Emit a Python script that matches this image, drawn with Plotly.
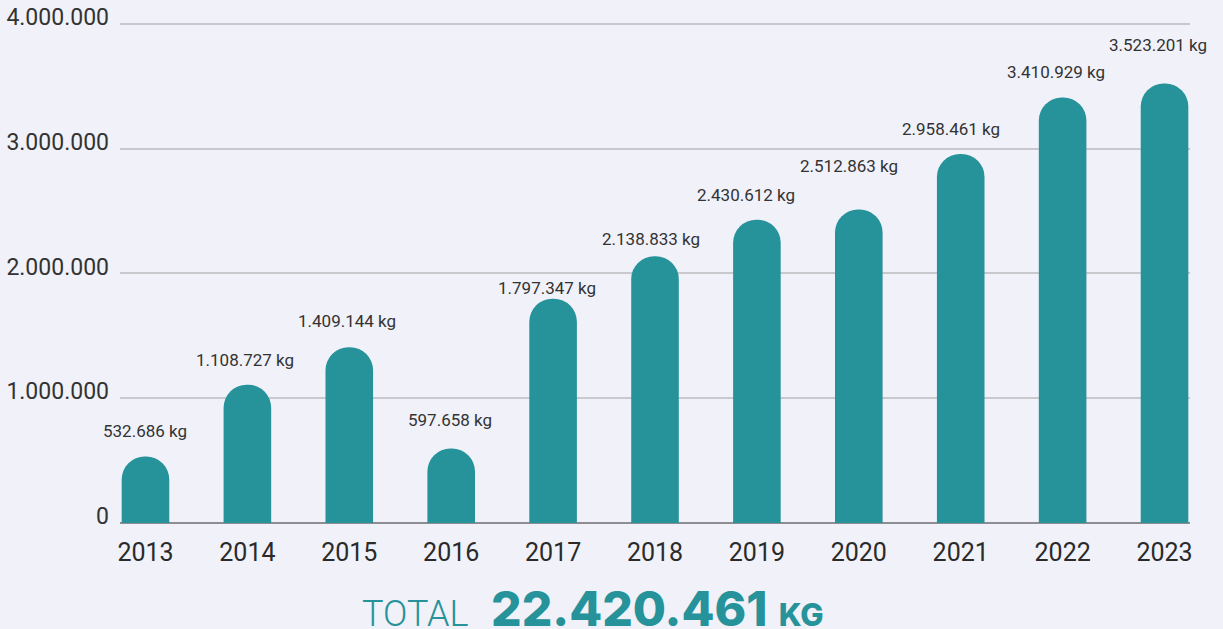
import plotly.graph_objects as go

years = ["2013", "2014", "2015", "2016", "2017", "2018", "2019", "2020", "2021", "2022", "2023"]
values_kg = [532686, 1108727, 1409144, 597658, 1797347, 2138833, 2430612, 2512863, 2958461, 3410929, 3523201]
y_ticks = [0, 1000000, 2000000, 3000000, 4000000]
# small label nudges (pixels) to mimic the original placement
label_dx = [-0.5, -2, -2, -1, -6.5, -4, -10.5, -10, -10, -7, -7]
label_dy = [25.5, 24.7, 26, 28, 11, 17, 25, 43.5, 25, 25.5, 38.5]

TEAL = "#26929A"
BG = "#F0F1F9"
FONT = "Roboto, Liberation Sans, Arial, sans-serif"

def fmt(v):
    return f"{v:,}".replace(",", ".")

fig = go.Figure()
fig.add_trace(go.Bar(
    x=years, y=values_kg,
    marker=dict(color=TEAL, line=dict(width=0), cornerradius="50%"),
    hoverinfo="skip",
))

for i, (v, dx, dy) in enumerate(zip(values_kg, label_dx, label_dy)):
    fig.add_annotation(
        x=i, y=v, xref="x", yref="y", text=f"{fmt(v)} kg", showarrow=False,
        xanchor="center", yanchor="middle", xshift=dx, yshift=dy,
        font=dict(family=FONT, size=17, color="#333333"),
    )

total = sum(values_kg)
fig.add_annotation(
    xref="paper", yref="paper", x=0.4425, y=-0.169,
    xanchor="center", yanchor="middle", showarrow=False,
    text=(f"<span style='font-family:Roboto; font-weight:300; font-size:36px'>TOTAL</span>"
          f"  <span style='font-family:Inter, Lato, sans-serif; font-weight:800; font-size:48px'>{fmt(total)}</span>"
          f" <span style='font-family:Inter, Lato, sans-serif; font-weight:800; font-size:31px'>KG</span>"),
    font=dict(color=TEAL, size=40, family="Inter"),
)

fig.update_layout(
    width=1223, height=629,
    margin=dict(l=120, r=33, t=18, b=106, autoexpand=False),
    paper_bgcolor=BG, plot_bgcolor=BG,
    separators=",.",
    bargap=0.533,
    showlegend=False,
    xaxis=dict(
        type="category", range=[-0.25, 10.25],
        showgrid=False, showline=False, ticks="", automargin=False,
        tickfont=dict(family=FONT, size=25, weight=400, color="#2a2a2a"),
        ticklabelstandoff=12,
    ),
    yaxis=dict(
        range=[0, 4048000], tickvals=y_ticks, tickformat=",d",
        showgrid=True, gridcolor="#C9C9CD", gridwidth=2,
        zeroline=True, zerolinecolor="#8E8E92", zerolinewidth=2,
        showline=False, ticks="", automargin=False,
        tickfont=dict(family=FONT, size=23, color="#333333"),
        ticklabelstandoff=10, ticklabelshift=-7,
    ),
)

fig.write_html("out.html", config={"displayModeBar": False},
               post_script="document.body.style.margin='0';")
